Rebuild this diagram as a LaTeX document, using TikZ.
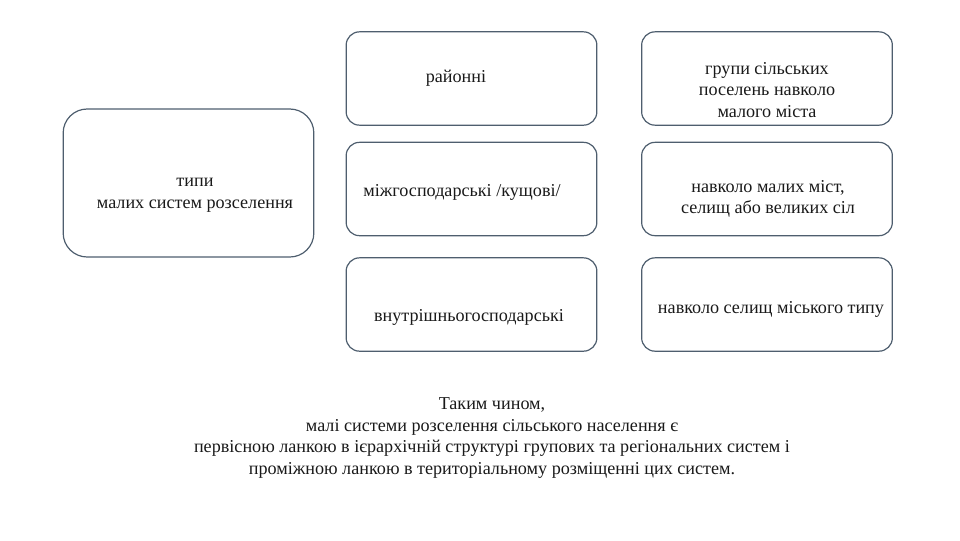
\documentclass[tikz,border=0pt]{standalone}
\usepackage{fontspec}
\setmainfont{Liberation Serif}
\definecolor{boxline}{RGB}{78,94,110}
\definecolor{txt}{RGB}{25,25,25}
\begin{document}
\begin{tikzpicture}[x=0.75pt,y=-0.75pt,
  box/.style={draw=boxline,line width=0.9pt,rounded corners=10pt,minimum width=188pt,minimum height=70pt,inner sep=0pt},
  bigbox/.style={box,rounded corners=18pt,minimum width=188pt,minimum height=111pt},
  lbl/.style={text=txt,font=\fontsize{13.6pt}{16.2pt}\selectfont,align=center,inner sep=0pt}]
\useasboundingbox (0,0) rectangle (960,540);
\node[bigbox] (L) at (188.5,183) {};
\node[box] (M1) at (471.5,78.5) {};
\node[box] (M2) at (471.5,189) {};
\node[box] (M3) at (471.5,304.5) {};
\node[box] (R1) at (767,78.5) {};
\node[box] (R2) at (767,189) {};
\node[box] (R3) at (767,304.5) {};
\node[lbl] (tL) at (195,195) {типи\\малих систем розселення};
\node[lbl] (tM1) at (456,78) {районні};
\node[lbl] (tM2) at (462,192) {міжгосподарські /кущові/};
\node[lbl] (tM3) at (469,317) {внутрішньогосподарські};
\node[lbl] (tR1) at (767,90) {групи сільських\\поселень навколо\\малого міста};
\node[lbl] (tR2) at (768,199) {навколо малих міст,\\селищ або великих сіл};
\node[lbl] (tR3) at (771,309) {навколо селищ міського типу};
\node[lbl] (bottom) at (492,438) {Таким чином,\\малі системи розселення сільського населення є\\первісною ланкою в ієрархічній структурі групових та регіональних систем і\\проміжною ланкою в територіальному розміщенні цих систем.};
\end{tikzpicture}
\end{document}
